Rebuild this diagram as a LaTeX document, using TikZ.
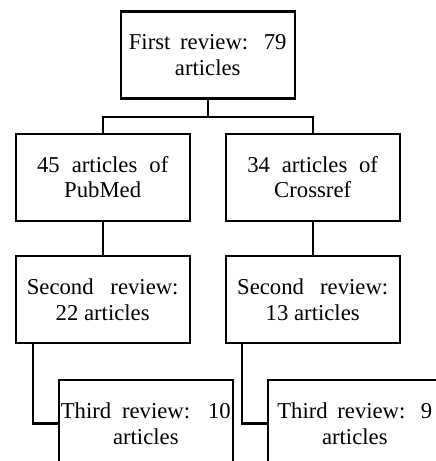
\documentclass[tikz,border=0pt]{standalone}
\usepackage{fontspec}
\setmainfont{Liberation Serif}
\usepackage{tikz}
\usetikzlibrary{positioning}

\newcommand{\spreadline}[2]{\makebox[#1][s]{#2}}

\tikzset{
  reviewbox/.style={draw, line width=2.2pt, minimum width=174pt, minimum height=87pt,
    inner sep=0pt, align=center, font=\fontsize{22.7}{25.8}\selectfont},
  link/.style={line width=2.2pt},
}

\begin{document}
\begin{tikzpicture}[x=1pt,y=-1pt]
  \useasboundingbox (0,0) rectangle (436,461);
  \clip (0,0) rectangle (436,461);

  % First review
  \node[reviewbox] (first) at (207.7,55) {\spreadline{157.7pt}{First review: 79}\\articles};

  % Sources
  \node[reviewbox] (pubmed) at (102.7,177.2) {\spreadline{131.3pt}{45 articles of}\\PubMed};
  \node[reviewbox] (crossref) at (312.7,177.2) {\spreadline{130.7pt}{34 articles of}\\Crossref};

  % Second review
  \node[reviewbox] (secondpm) at (102.7,299.7) {\spreadline{151.7pt}{Second review:}\\22 articles};
  \node[reviewbox] (secondcr) at (312.7,299.7) {\spreadline{151pt}{Second review:}\\13 articles};

  % Third review
  \node[reviewbox] (thirdpm) at (145.8,423.5) {\spreadline{170pt}{Third review: 10}\\articles};
  \node[reviewbox] (thirdcr) at (354.8,423.5) {\spreadline{155pt}{Third review: 9}\\articles};

  % Links
  \coordinate (split) at ([yshift=-17.7pt]first.south);
  \draw[link] (first.south) -- (split);
  \draw[link] (split) -| (pubmed.north);
  \draw[link] (split) -| (crossref.north);
  \draw[link] (pubmed.south) -- (secondpm.north);
  \draw[link] (crossref.south) -- (secondcr.north);
  \draw[link] ([xshift=18pt]secondpm.south west) |- (thirdpm.west);
  \draw[link] ([xshift=17pt]secondcr.south west) |- (thirdcr.west);
\end{tikzpicture}
\end{document}
